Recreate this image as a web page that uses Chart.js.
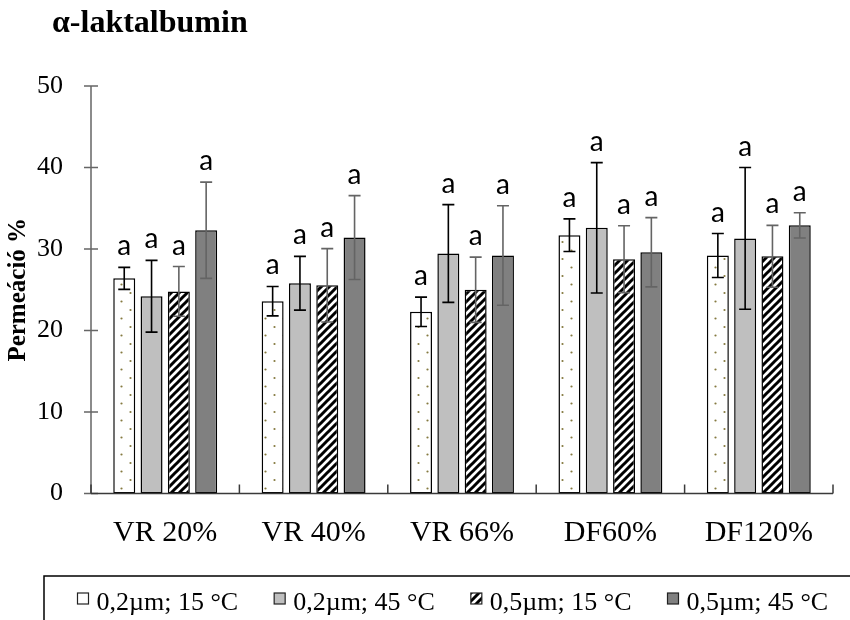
<!DOCTYPE html>
<html><head><meta charset="utf-8">
<script src="https://cdn.jsdelivr.net/npm/chart.js@4.4.1/dist/chart.umd.min.js"></script>
<style>html,body{margin:0;padding:0;background:#fff}#wrap{width:850px;height:620px;position:relative}</style>
</head><body><div id="wrap"><canvas id="c" width="850" height="620"></canvas></div>
<script>
// ---- data ----
const categories = ['VR 20%', 'VR 40%', 'VR 66%', 'DF60%', 'DF120%'];
const seriesNames = ['0,2µm; 15 °C', '0,2µm; 45 °C', '0,5µm; 15 °C', '0,5µm; 45 °C'];
const s1Values = [26.4, 23.6, 22.3, 31.7, 29.2];
const s2Values = [24.2, 25.8, 29.45, 32.6, 31.3];
const s3Values = [24.8, 25.55, 25.0, 28.75, 29.1];
const s4Values = [32.3, 31.4, 29.2, 29.6, 32.9];
const s1Errors = [1.35, 1.8, 1.8, 2.0, 2.7];
const s2Errors = [4.4, 3.3, 6.0, 8.0, 8.7];
const s3Errors = [3.05, 4.5, 4.0, 4.1, 3.8];
const s4Errors = [5.9, 5.15, 6.1, 4.25, 1.55];
const s1Letters = ['a', 'a', 'a', 'a', 'a'];
const s2Letters = ['a', 'a', 'a', 'a', 'a'];
const s3Letters = ['a', 'a', 'a', 'a', 'a'];
const s4Letters = ['a', 'a', 'a', 'a', 'a'];
const yTickValues = [0, 10, 20, 30, 40, 50];
const chartTitle = 'α-laktalbumin';
const yAxisTitle = 'Permeáció %';

// ---- patterns ----
function dotPattern() {
  const c = document.createElement('canvas'); c.width = 18; c.height = 17;
  const g = c.getContext('2d');
  g.fillStyle = '#fff'; g.fillRect(0, 0, 18, 17);
  g.fillStyle = '#857a40';
  g.beginPath(); g.arc(4.5, 4, 1.1, 0, Math.PI * 2); g.fill();
  g.beginPath(); g.arc(13.5, 12.5, 1.1, 0, Math.PI * 2); g.fill();
  return g.createPattern(c, 'repeat');
}
function hatchPattern() {
  const s = 8;
  const c = document.createElement('canvas'); c.width = s; c.height = s;
  const g = c.getContext('2d');
  g.fillStyle = '#fff'; g.fillRect(0, 0, s, s);
  g.strokeStyle = '#000'; g.lineWidth = 3; g.lineCap = 'square';
  g.beginPath();
  g.moveTo(-2, s + 2); g.lineTo(s + 2, -2);
  g.moveTo(-2, 2); g.lineTo(2, -2);
  g.moveTo(s - 2, s + 2); g.lineTo(s + 2, s - 2);
  g.stroke();
  return g.createPattern(c, 'repeat');
}

const fills = [dotPattern(), '#bfbfbf', hatchPattern(), '#808080'];
const valuesList = [s1Values, s2Values, s3Values, s4Values];
const errorsList = [s1Errors, s2Errors, s3Errors, s4Errors];
const lettersList = [s1Letters, s2Letters, s3Letters, s4Letters];
const errColors = ['#000000', '#000000', '#646464', '#646464'];

const datasets = valuesList.map((vals, i) => ({
  label: seriesNames[i],
  data: vals,
  backgroundColor: fills[i],
  borderColor: '#000',
  borderWidth: 1.5,
  borderSkipped: false,
  categoryPercentage: 0.736,
  barPercentage: 0.805
}));

const decor = {
  id: 'decor',
  afterDatasetsDraw(chart) {
    const ctx = chart.ctx;
    const y = chart.scales.y, x = chart.scales.x;
    const ca = chart.chartArea;
    ctx.save();
    // error bars + letters
    chart.data.datasets.forEach((ds, i) => {
      const meta = chart.getDatasetMeta(i);
      meta.data.forEach((bar, j) => {
        const v = ds.data[j], e = errorsList[i][j];
        const yt = y.getPixelForValue(v + e), yb = y.getPixelForValue(v - e);
        ctx.strokeStyle = errColors[i]; ctx.lineWidth = 1.6;
        ctx.beginPath();
        ctx.moveTo(bar.x, yt); ctx.lineTo(bar.x, yb);
        ctx.moveTo(bar.x - 6, yt); ctx.lineTo(bar.x + 6, yt);
        ctx.moveTo(bar.x - 6, yb); ctx.lineTo(bar.x + 6, yb);
        ctx.stroke();
        ctx.fillStyle = '#000';
        ctx.font = '28px Lato';
        ctx.textAlign = 'center'; ctx.textBaseline = 'alphabetic';
        ctx.fillText(lettersList[i][j], bar.x, yt - 12);
      });
    });
    // y axis
    ctx.strokeStyle = '#666'; ctx.lineWidth = 1.5;
    ctx.beginPath();
    ctx.moveTo(ca.left, y.getPixelForValue(50)); ctx.lineTo(ca.left, y.getPixelForValue(0));
    yTickValues.forEach(t => {
      const py = y.getPixelForValue(t);
      ctx.moveTo(ca.left - 7, py); ctx.lineTo(ca.left + 7, py);
    });
    ctx.stroke();
    // x axis
    ctx.strokeStyle = '#3a3a3a'; ctx.lineWidth = 1.5;
    ctx.beginPath();
    const py0 = y.getPixelForValue(0);
    ctx.moveTo(ca.left, py0); ctx.lineTo(ca.right, py0);
    for (let k = 0; k <= categories.length; k++) {
      const px = x.getPixelForValue(k - 0.5);
      ctx.moveTo(px, py0); ctx.lineTo(px, py0 - 9);
    }
    ctx.stroke();
    ctx.restore();
  },
  afterDraw(chart) {
    const ctx = chart.ctx;
    ctx.save();
    // title
    ctx.fillStyle = '#000';
    ctx.font = 'bold 32px "Liberation Serif"';
    ctx.textAlign = 'left'; ctx.textBaseline = 'alphabetic';
    ctx.fillText(chartTitle, 52, 32);
    // legend box
    ctx.strokeStyle = '#000'; ctx.lineWidth = 1.5;
    ctx.strokeRect(44, 576, 820, 60);
    // legend items
    ctx.font = '26px "Liberation Serif"';
    let lx = 77.5;
    chart.data.datasets.forEach((ds, i) => {
      ctx.fillStyle = ds.backgroundColor;
      ctx.fillRect(lx, 593, 11, 11);
      ctx.strokeStyle = '#222'; ctx.lineWidth = 1.2;
      ctx.strokeRect(lx, 593, 11, 11);
      ctx.fillStyle = '#000';
      ctx.fillText(ds.label, lx + 19, 610);
      lx += 19 + ctx.measureText(ds.label).width + 36;
    });
    ctx.restore();
  }
};

new Chart(document.getElementById('c'), {
  type: 'bar',
  data: { labels: categories, datasets },
  options: {
    responsive: false,
    animation: false,
    devicePixelRatio: 1,
    layout: { padding: { top: 86, left: 0, right: 17, bottom: 66.5 } },
    plugins: { legend: { display: false }, tooltip: { enabled: false }, title: { display: false } },
    scales: {
      x: {
        grid: { display: false }, border: { display: false },
        ticks: { color: '#000', font: { family: 'Liberation Serif', size: 30 }, padding: 13.5, maxRotation: 0 },
        afterFit: s => { s.height = 60; }
      },
      y: {
        min: 0, max: 50,
        grid: { display: false }, border: { display: false },
        afterBuildTicks: s => { s.ticks = yTickValues.map(v => ({ value: v })); },
        ticks: { color: '#000', font: { family: 'Liberation Serif', size: 26 }, padding: 20 },
        title: { display: true, text: yAxisTitle, color: '#000', font: { family: 'Liberation Serif', size: 25, weight: 'bold' }, padding: { top: 4, bottom: 0 } },
        afterFit: s => { s.width = 91; }
      }
    }
  },
  plugins: [decor]
});
</script>
</body></html>
